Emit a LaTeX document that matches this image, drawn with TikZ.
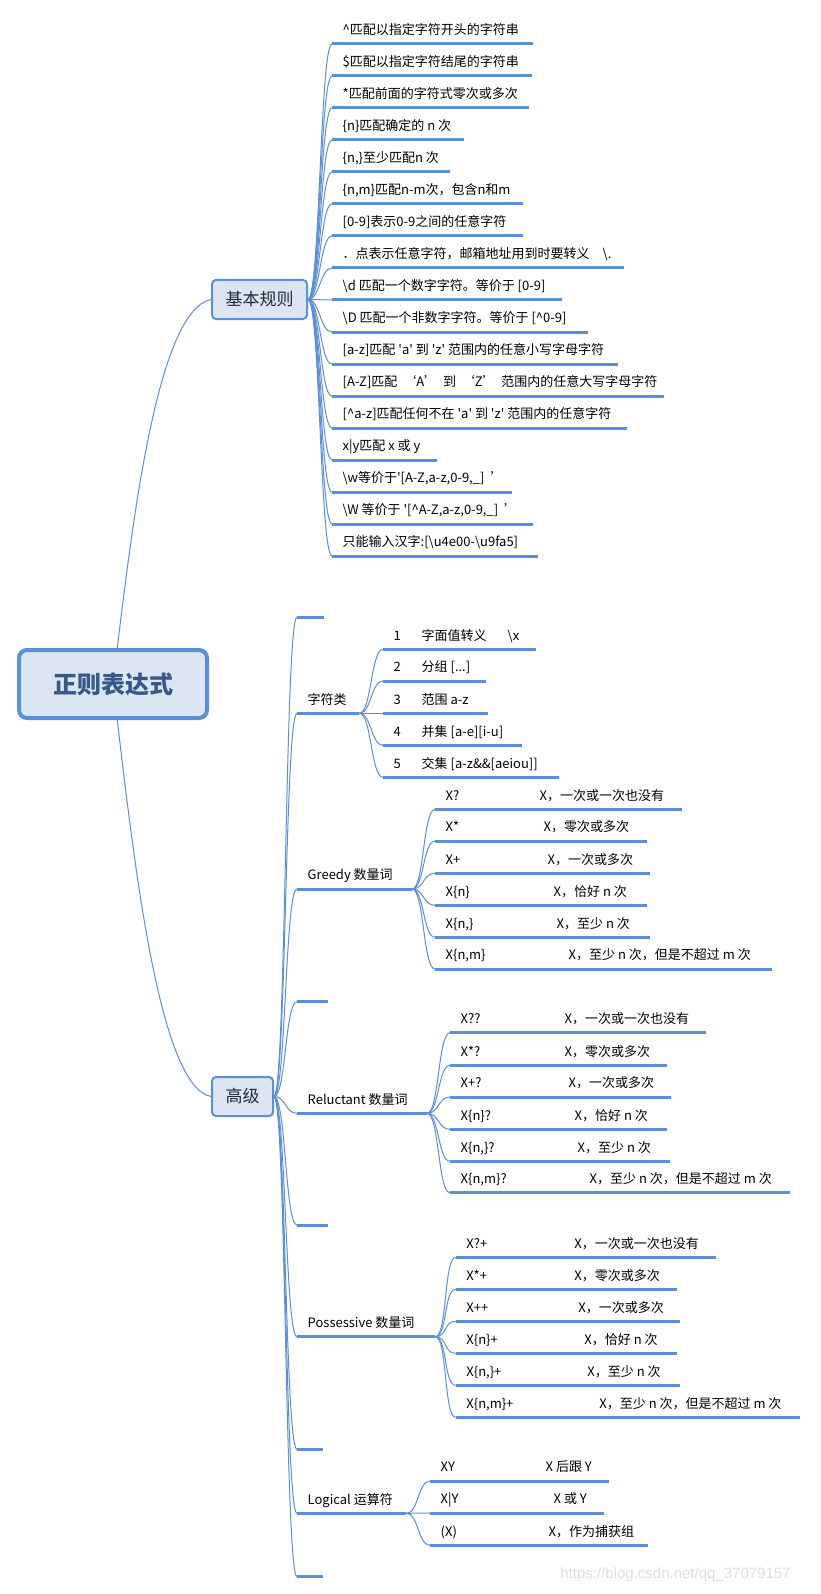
\documentclass[tikz,border=0pt]{standalone}
\usepackage{fontspec}
\setmainfont{Noto Sans CJK SC}[Ligatures=TeXOff]
\newfontfamily\wmfont{Liberation Sans}
\definecolor{lineblue}{RGB}{91,143,216}
\definecolor{nodefill}{RGB}{220,230,242}
\definecolor{roottext}{RGB}{54,89,138}
\definecolor{topictext}{RGB}{30,43,60}
\definecolor{wmgray}{RGB}{222,222,222}
\tikzset{
  conn/.style={draw=lineblue, line width=1pt},
  uline/.style={draw=lineblue, line width=3pt},
  leaf/.style={anchor=south west, inner xsep=0pt, inner ysep=0pt, text height=13pt, text depth=9pt, font=\fontsize{13}{15}\selectfont},
  topic/.style={draw=lineblue, fill=nodefill, line width=2pt, rounded corners=4pt, inner sep=0pt, minimum height=39pt, text=topictext, font=\fontsize{17}{20}\selectfont},
  rootnode/.style={draw=lineblue, fill=nodefill, line width=4pt, rounded corners=8pt, inner sep=0pt, minimum width=188pt, minimum height=68pt, text=roottext, font=\fontsize{24}{28}\selectfont\bfseries},
  wm/.style={text=wmgray, inner sep=0pt, font=\wmfont\fontsize{15}{17}\selectfont}
}
\newcommand\lf[5]{%
  \node[leaf] (#1) at (#2,#3) {\makebox[\dimexpr#4pt-#2pt\relax][l]{\hspace{10.5pt}#5}};
  \draw[uline] (#1.south west) -- (#1.south east);}
\newcommand\kid[2]{\draw[conn] (#1) .. controls +(12,0) and +(-12,0) .. (#2.south west);}
\begin{document}
\begin{tikzpicture}[x=1pt,y=-1pt]
\path[fill=white] (0,0) rectangle (820,1594);

% main topics
\node[rootnode] (root) at (113,684) {正则表达式};
\node[topic, minimum width=95pt] (jb) at (259.5,299.5) {基本规则};
\node[topic, minimum width=61pt] (gj) at (242.5,1096.5) {高级};

% basic rules
\lf{b1}{332}{44}{533}{\textasciicircum 匹配以指定字符开头的字符串}
\lf{b2}{332}{76}{532}{\$匹配以指定字符结尾的字符串}
\lf{b3}{332}{108}{529}{*匹配前面的字符式零次或多次}
\lf{b4}{332}{140}{464}{\{n\}匹配确定的 n 次}
\lf{b5}{332}{172}{450}{\{n,\}至少匹配n 次}
\lf{b6}{332}{204}{523}{\{n,m\}匹配n-m次，包含n和m}
\lf{b7}{332}{236}{523}{[0-9]表示0-9之间的任意字符}
\lf{b8}{332}{268}{624}{．点表示任意字符，邮箱地址用到时要转义\hspace{13pt}\textbackslash.}
\lf{b9}{332}{300}{562}{\textbackslash d 匹配一个数字字符。等价于 [0-9]}
\lf{b10}{332}{332}{588}{\textbackslash D 匹配一个非数字字符。等价于 [\textasciicircum 0-9]}
\lf{b11}{332}{364}{618}{[a-z]匹配 'a' 到 'z' 范围内的任意小写字母字符}
\lf{b12}{332}{396}{664}{[A-Z]匹配 \ ‘A’ \ 到 \ ‘Z’ \ 范围内的任意大写字母字符}
\lf{b13}{332}{428}{627}{[\textasciicircum a-z]匹配任何不在 'a' 到 'z' 范围内的任意字符}
\lf{b14}{332}{460}{437}{x|y匹配 x 或 y}
\lf{b15}{332}{492}{512}{\textbackslash w等价于'[A-Z,a-z,0-9,\_]\hspace{6pt}’}
\lf{b16}{332}{524}{533}{\textbackslash W 等价于 '[\textasciicircum A-Z,a-z,0-9,\_]\hspace{6pt}’}
\lf{b17}{332}{556}{538}{只能输入汉字:[\textbackslash u4e00-\textbackslash u9fa5]}

% advanced: second level
\lf{e1}{297}{617}{324}{}
\lf{zf}{297}{713.3}{359}{字符类}
\lf{gr}{297}{889}{411.7}{Greedy 数量词}
\lf{e2}{297}{1001.7}{328}{}
\lf{rl}{297}{1113.3}{426.7}{Reluctant 数量词}
\lf{e3}{297}{1225}{328}{}
\lf{ps}{297}{1336.7}{435}{Possessive 数量词}
\lf{e4}{297}{1449.3}{323}{}
\lf{lg}{297}{1513.3}{406}{Logical 运算符}
\lf{e5}{297}{1576.7}{323}{}

% character classes
\lf{z1}{383}{649.3}{535.7}{\makebox[28pt][l]{1}字面值转义\hspace{21pt}\textbackslash x}
\lf{z2}{383}{681}{485.7}{\makebox[28pt][l]{2}分组 [...]}
\lf{z3}{383}{713.3}{487.3}{\makebox[28pt][l]{3}范围 a-z}
\lf{z4}{383}{745.3}{521.7}{\makebox[28pt][l]{4}并集 [a-e][i-u]}
\lf{z5}{383}{777.3}{558.3}{\makebox[28pt][l]{5}交集 [a-z\&\&[aeiou]]}

% greedy
\lf{g1}{435}{809.3}{681.7}{\makebox[94pt][l]{X?}X，一次或一次也没有}
\lf{g2}{435}{841}{646.7}{\makebox[98pt][l]{X*}X，零次或多次}
\lf{g3}{435}{873.3}{650}{\makebox[102pt][l]{X+}X，一次或多次}
\lf{g4}{435}{905.3}{646.7}{\makebox[108pt][l]{X\{n\}}X，恰好 n 次}
\lf{g5}{435}{937.3}{649.3}{\makebox[111pt][l]{X\{n,\}}X，至少 n 次}
\lf{g6}{435}{969}{772}{\makebox[123pt][l]{X\{n,m\}}X，至少 n 次，但是不超过 m 次}

% reluctant
\lf{r1}{450}{1032.7}{706}{\makebox[104pt][l]{X??}X，一次或一次也没有}
\lf{r2}{450}{1065.3}{666.7}{\makebox[104pt][l]{X*?}X，零次或多次}
\lf{r3}{450}{1097}{670.7}{\makebox[108pt][l]{X+?}X，一次或多次}
\lf{r4}{450}{1129.3}{666.7}{\makebox[114pt][l]{X\{n\}?}X，恰好 n 次}
\lf{r5}{450}{1161.3}{669.3}{\makebox[117pt][l]{X\{n,\}?}X，至少 n 次}
\lf{r6}{450}{1192.7}{790}{\makebox[129pt][l]{X\{n,m\}?}X，至少 n 次，但是不超过 m 次}

% possessive
\lf{p1}{455.7}{1257.3}{715.7}{\makebox[108pt][l]{X?+}X，一次或一次也没有}
\lf{p2}{455.7}{1289.3}{676.7}{\makebox[108pt][l]{X*+}X，零次或多次}
\lf{p3}{455.7}{1321.3}{680}{\makebox[112pt][l]{X++}X，一次或多次}
\lf{p4}{455.7}{1353.3}{676.7}{\makebox[118pt][l]{X\{n\}+}X，恰好 n 次}
\lf{p5}{455.7}{1385.3}{680}{\makebox[121pt][l]{X\{n,\}+}X，至少 n 次}
\lf{p6}{455.7}{1417.3}{800}{\makebox[133pt][l]{X\{n,m\}+}X，至少 n 次，但是不超过 m 次}

% logical
\lf{l1}{430}{1481}{609}{\makebox[105pt][l]{XY}X 后跟 Y}
\lf{l2}{430}{1513}{604}{\makebox[113pt][l]{X|Y}X 或 Y}
\lf{l3}{430}{1545.3}{647.3}{\makebox[108pt][l]{(X)}X，作为捕获组}

% connectors
\draw[conn] (root) .. controls (135,500) and (160,310) .. (jb.west);
\draw[conn] (root) .. controls (135,870) and (160,1087) .. (gj.west);
\foreach \i in {1,...,17} {\kid{jb.east}{b\i}}
\foreach \n in {e1,zf,gr,e2,rl,e3,ps,e4,lg,e5} {\kid{gj.east}{\n}}
\foreach \i in {1,...,5} {\kid{zf.south east}{z\i}}
\foreach \i in {1,...,6} {\kid{gr.south east}{g\i}}
\foreach \i in {1,...,6} {\kid{rl.south east}{r\i}}
\foreach \i in {1,...,6} {\kid{ps.south east}{p\i}}
\foreach \i in {1,...,3} {\kid{lg.south east}{l\i}}

% watermark
\node[wm] (wmark) at (675.5,1575) {https://blog.csdn.net/qq\_37079157};
\end{tikzpicture}
\end{document}
